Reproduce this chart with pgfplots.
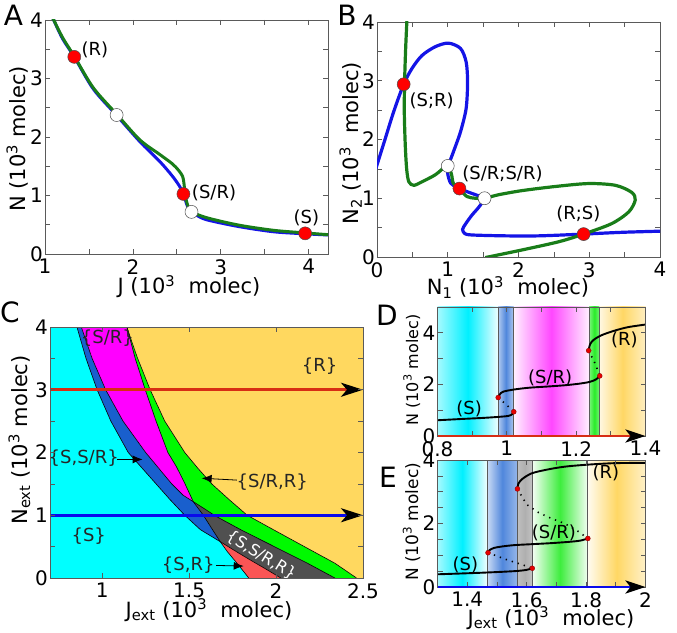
\documentclass[border=0pt]{standalone}
\usepackage{pgfplots}
\pgfplotsset{compat=1.18}
\usepackage{fontspec}
\setmainfont{DejaVu Sans}
\usetikzlibrary{arrows.meta}
\newcommand{\fs}[1]{\fontsize{#1}{#1}\selectfont}
\definecolor{cblue}{RGB}{20,20,230}
\definecolor{cgreen}{RGB}{25,125,25}
\definecolor{rcyan}{RGB}{0,255,255}
\definecolor{rblue}{RGB}{25,95,205}
\definecolor{rmag}{RGB}{255,0,255}
\definecolor{rgreen}{RGB}{0,250,0}
\definecolor{ryel}{RGB}{255,216,95}
\definecolor{rgray}{RGB}{80,80,80}
\definecolor{rred}{RGB}{250,85,85}
\definecolor{lred}{RGB}{215,45,20}
\definecolor{lblue}{RGB}{10,10,235}
\definecolor{axgray}{RGB}{90,90,90}
\definecolor{dcy}{RGB}{0,240,255}
\definecolor{dbl}{RGB}{80,135,220}
\definecolor{dmg}{RGB}{255,50,255}
\definecolor{dgr}{RGB}{40,235,40}
\definecolor{dye}{RGB}{255,215,100}
\definecolor{dgy}{RGB}{175,175,175}
\pgfplotsset{
  base/.style={scale only axis, anchor=south west,
    axis line style={axgray, line width=0.9pt},
    tick align=inside, tick style={axgray, line width=0.7pt},
    major tick length=5pt, minor tick length=5pt,
    tick label style={font=\fs{20}},
    xticklabel style={inner sep=0pt, yshift=-5pt},
    yticklabel style={inner sep=0pt, xshift=-2pt},
    /pgf/number format/assume math mode=true,
  },
  redpt/.style={only marks, mark=*, mark size=6.5pt, mark options={fill=red, draw=black!70, line width=0.5pt}},
  whitept/.style={only marks, mark=*, mark size=6.5pt, mark options={fill=white, draw=black!70, line width=0.5pt}},
  smallpt/.style={only marks, mark=*, mark size=2.5pt, mark options={fill=red!90!black, draw=red!50!black, line width=0.3pt}},
  region/.style={draw=none, fill=#1},
  bnd/.style={black, line width=0.6pt},
  curveDE/.style={black, line width=1.9pt, smooth},
  unst/.style={black, line width=1.6pt, dash pattern=on 1.3pt off 5pt},
  vline/.style={axgray, line width=0.8pt},
}
\begin{document}
\begin{tikzpicture}[x=1pt,y=1pt]
\useasboundingbox (0,0) rectangle (677,632);

% ---------------- Panel A ----------------
\begin{axis}[base, at={(45pt,378pt)}, width=283pt, height=234pt,
  xmin=1, xmax=4.22, ymin=0, ymax=4, xtick={1,2,3,4}, ytick={0,1,2,3,4},
  minor xtick={1.5,2.5,3.5}, minor ytick={0.5,1.5,2.5,3.5}]
\addplot[cblue, line width=3pt, smooth] coordinates {(1.09,4.03) (1.2,3.68) (1.333,3.37) (1.55,2.82) (1.815,2.37) (2.08,1.92) (2.307,1.58) (2.45,1.33) (2.53,1.16) (2.575,1.03) (2.62,0.82) (2.667,0.72) (2.72,0.667) (2.84,0.585) (3.2,0.47) (3.6,0.38) (3.96,0.345) (4.22,0.325)};
\addplot[cgreen, line width=3pt, smooth] coordinates {(1.09,4.03) (1.2,3.70) (1.333,3.38) (1.55,2.84) (1.815,2.39) (2.08,1.95) (2.307,1.70) (2.45,1.54) (2.52,1.43) (2.565,1.33) (2.58,1.22) (2.59,1.09) (2.61,0.90) (2.64,0.77) (2.667,0.72) (2.84,0.62) (3.2,0.495) (3.6,0.405) (3.96,0.36) (4.22,0.33)};
\addplot[redpt] coordinates {(1.333,3.37) (2.575,1.026) (3.96,0.353)};
\addplot[whitept] coordinates {(1.815,2.376) (2.667,0.72)};
\node[font=\fs{18}] at (axis cs:1.568,3.49) {(R)};
\node[font=\fs{18}] at (axis cs:2.923,1.048) {(S/R)};
\node[font=\fs{18}] at (axis cs:3.974,0.61) {(S)};
\end{axis}

% ---------------- Panel B ----------------
\begin{axis}[base, at={(377pt,375pt)}, width=283pt, height=235pt,
  xmin=0, xmax=4, ymin=0, ymax=4, xtick={0,1,2,3,4}, ytick={0,1,2,3,4},
  minor xtick={0.5,1.5,2.5,3.5}, minor ytick={0.5,1.5,2.5,3.5}]
\addplot[cblue, line width=3.2pt, smooth] coordinates {(-0.02,1.49) (0.118,2.02) (0.235,2.47) (0.377,2.94) (0.495,3.21) (0.636,3.43) (0.825,3.58) (1.01,3.64) (1.18,3.55) (1.26,3.32) (1.28,2.98) (1.26,2.53) (1.18,2.13) (1.08,1.79) (1.02,1.59) (1.0,1.42) (1.04,1.26) (1.11,1.20) (1.165,1.165) (1.30,1.10) (1.44,1.04) (1.52,1.0) (1.44,0.85) (1.34,0.71) (1.25,0.56) (1.21,0.47) (1.24,0.40) (1.34,0.375) (1.81,0.36) (2.29,0.36) (2.92,0.39) (3.46,0.42) (4.02,0.44)};
\addplot[cgreen, line width=3.2pt, smooth] coordinates {(0.424,4.06) (0.405,3.55) (0.39,2.98) (0.386,2.46) (0.40,1.89) (0.42,1.49) (0.45,1.28) (0.52,1.22) (0.636,1.28) (0.825,1.40) (0.99,1.55) (1.05,1.42) (1.08,1.25) (1.165,1.165) (1.27,1.03) (1.39,1.0) (1.52,1.0) (1.72,1.06) (2.05,1.13) (2.52,1.20) (2.99,1.25) (3.37,1.22) (3.60,1.10) (3.65,0.97) (3.56,0.77) (3.32,0.57) (2.92,0.39) (2.57,0.26) (2.05,0.12) (1.53,-0.01)};
\addplot[redpt] coordinates {(0.377,2.94) (1.165,1.165) (2.92,0.39)};
\addplot[whitept] coordinates {(1.0,1.55) (1.52,1.0)};
\node[font=\fs{18}] at (axis cs:0.773,2.65) {(S;R)};
\node[font=\fs{18}] at (axis cs:1.774,1.42) {(S/R;S/R)};
\node[font=\fs{18}] at (axis cs:2.845,0.74) {(R;S)};
\end{axis}

% ---------------- Panel C ----------------
\begin{axis}[base, at={(50pt,54pt)}, width=313pt, height=251pt,
  xmin=0.7, xmax=2.5, ymin=0, ymax=4, xtick={1,1.5,2,2.5}, ytick={0,1,2,3,4},
  minor ytick={0.5,1.5,2.5,3.5}, axis on top]
\addplot[region=rcyan] coordinates {(0.7,4) (0.855,4) (0.907,3.5) (0.971,3) (1.05,2.5) (1.15,2.0) (1.23,1.75) (1.31,1.5) (1.39,1.25) (1.475,1.0) (1.565,0.77) (1.679,0.579) (1.72,0.42) (1.78,0.22) (1.843,0) (0.7,0)} -- cycle;
\addplot[region=rblue] coordinates {(0.855,4) (0.907,3.5) (0.971,3) (1.05,2.5) (1.15,2.0) (1.23,1.75) (1.31,1.5) (1.39,1.25) (1.475,1.0) (1.565,0.77) (1.679,0.579) (1.63,0.79) (1.582,1.0) (1.555,1.1) (1.524,1.216) (1.465,1.32) (1.40,1.5) (1.325,1.75) (1.25,2.0) (1.12,2.5) (1.02,3) (0.942,3.5) (0.88,4)} -- cycle;
\addplot[region=rmag] coordinates {(0.88,4) (0.942,3.5) (1.02,3) (1.12,2.5) (1.25,2.0) (1.325,1.75) (1.40,1.5) (1.465,1.32) (1.524,1.216) (1.505,1.33) (1.475,1.509) (1.427,1.774) (1.378,2.0) (1.31,2.5) (1.248,3) (1.19,3.5) (1.142,4)} -- cycle;
\addplot[region=rgreen] coordinates {(1.142,4) (1.19,3.5) (1.248,3) (1.31,2.5) (1.378,2.0) (1.427,1.774) (1.475,1.509) (1.505,1.33) (1.524,1.216) (1.59,1.1) (1.65,0.99) (1.80,0.765) (1.99,0.5) (2.18,0.236) (2.338,0) (2.463,0) (2.338,0.236) (2.163,0.5) (1.988,0.765) (1.834,1.0) (1.73,1.25) (1.63,1.5) (1.55,1.75) (1.475,2.0) (1.36,2.5) (1.276,3) (1.204,3.5) (1.171,3.76)} -- cycle;
\addplot[region=ryel] coordinates {(1.142,4) (1.171,3.76) (1.204,3.5) (1.276,3) (1.36,2.5) (1.475,2.0) (1.55,1.75) (1.63,1.5) (1.73,1.25) (1.834,1.0) (1.988,0.765) (2.163,0.5) (2.338,0.236) (2.463,0) (2.5,0) (2.5,4)} -- cycle;
\addplot[region=rgray] coordinates {(1.524,1.216) (1.555,1.1) (1.582,1.0) (1.63,0.79) (1.679,0.579) (1.76,0.44) (1.85,0.29) (1.94,0.145) (2.027,0) (2.338,0) (2.18,0.236) (1.99,0.5) (1.80,0.765) (1.65,0.99) (1.59,1.1)} -- cycle;
\addplot[region=rred] coordinates {(1.679,0.579) (1.72,0.42) (1.78,0.22) (1.843,0) (2.027,0) (1.94,0.145) (1.85,0.29) (1.76,0.44)} -- cycle;
\addplot[bnd] coordinates {(0.855,4) (0.907,3.5) (0.971,3) (1.05,2.5) (1.15,2.0) (1.23,1.75) (1.31,1.5) (1.39,1.25) (1.475,1.0) (1.565,0.77) (1.679,0.579) (1.76,0.44) (1.85,0.29) (1.94,0.145) (2.027,0)};
\addplot[bnd] coordinates {(0.88,4) (0.942,3.5) (1.02,3) (1.12,2.5) (1.25,2.0) (1.325,1.75) (1.40,1.5) (1.465,1.32) (1.524,1.216) (1.59,1.1) (1.65,0.99) (1.80,0.765) (1.99,0.5) (2.18,0.236) (2.338,0)};
\addplot[bnd] coordinates {(1.142,4) (1.19,3.5) (1.248,3) (1.31,2.5) (1.378,2.0) (1.427,1.774) (1.475,1.509) (1.505,1.33) (1.524,1.216) (1.555,1.1) (1.582,1.0) (1.63,0.79) (1.679,0.579) (1.72,0.42) (1.78,0.22) (1.843,0)};
\addplot[bnd] coordinates {(1.142,4) (1.171,3.76) (1.204,3.5) (1.276,3) (1.36,2.5) (1.475,2.0) (1.55,1.75) (1.63,1.5) (1.73,1.25) (1.834,1.0) (1.988,0.765) (2.163,0.5) (2.338,0.236) (2.463,0)};
\addplot[lred, line width=2.7pt, -{Stealth[length=22pt,width=14pt,inset=6pt,color=black]}] coordinates {(0.7,3) (2.5,3)};
\addplot[lblue, line width=2.7pt, -{Stealth[length=22pt,width=14pt,inset=6pt,color=black]}] coordinates {(0.7,1) (2.5,1)};
\addplot[black, line width=0.8pt, -{Latex[length=10pt,width=8pt]}] coordinates {(1.085,1.89) (1.233,1.89)};
\addplot[black, line width=0.8pt, -{Latex[length=10pt,width=8pt]}] coordinates {(1.775,1.56) (1.572,1.59)};
\addplot[black, line width=0.8pt, -{Latex[length=10pt,width=8pt]}] coordinates {(1.655,0.20) (1.814,0.19)};
\node[font=\fs{18}, text=black!85] at (axis cs:1.03,3.82) {\{S/R\}};
\node[font=\fs{18}, text=black!85] at (axis cs:2.25,3.37) {\{R\}};
\node[font=\fs{18}, text=black!85] at (axis cs:0.894,1.91) {\{S,S/R\}};
\node[font=\fs{18}, text=black!85] at (axis cs:1.978,1.535) {\{S/R,R\}};
\node[font=\fs{18}, text=black!85] at (axis cs:0.923,0.66) {\{S\}};
\node[font=\fs{18}, text=black!85] at (axis cs:1.495,0.207) {\{S,R\}};
\node[font=\fs{16}, text=white, rotate=-32] at (axis cs:1.915,0.36) {\{S,S/R,R\}};
\end{axis}

% ---------------- Panel D ----------------
\begin{axis}[base, at={(437.5pt,196pt)}, width=208pt, height=129pt,
  xmin=0.8, xmax=1.4, ymin=0, ymax=5, xtick={0.8,1,1.2,1.4}, ytick={0,2,4},
  minor xtick={0.9,1.1,1.3}, minor ytick={1,3}, axis on top, clip=false]
\addplot[draw=none, left color=dcy!35!white, right color=dcy!6!white, middle color=dcy] coordinates {(0.8,0) (0.8,5) (0.975,5) (0.975,0)} -- cycle;
\addplot[draw=none, left color=dbl!45!white, right color=dbl!45!white, middle color=dbl] coordinates {(0.975,0) (0.975,5) (1.02,5) (1.02,0)} -- cycle;
\addplot[draw=none, left color=dmg!8!white, right color=dmg!8!white, middle color=dmg!90!white] coordinates {(1.02,0) (1.02,5) (1.237,5) (1.237,0)} -- cycle;
\addplot[draw=none, left color=dgr!60!white, right color=dgr!60!white, middle color=dgr] coordinates {(1.237,0) (1.237,5) (1.268,5) (1.268,0)} -- cycle;
\addplot[draw=none, left color=dye!20!white, right color=dye!40!white, middle color=dye] coordinates {(1.268,0) (1.268,5) (1.4,5) (1.4,0)} -- cycle;
\addplot[vline] coordinates {(0.975,0) (0.975,5)};
\addplot[vline] coordinates {(1.02,0) (1.02,5)};
\addplot[vline] coordinates {(1.237,0) (1.237,5)};
\addplot[vline] coordinates {(1.268,0) (1.268,5)};
\addplot[curveDE] coordinates {(0.8,0.61) (0.87,0.66) (0.93,0.70) (0.98,0.745) (1.005,0.78) (1.015,0.84) (1.02,0.94)};
\addplot[curveDE] coordinates {(0.975,1.49) (0.98,1.62) (0.99,1.72) (1.02,1.80) (1.063,1.87) (1.12,1.92) (1.17,1.97) (1.21,2.03) (1.24,2.10) (1.258,2.20) (1.268,2.33)};
\addplot[curveDE] coordinates {(1.236,3.31) (1.24,3.55) (1.25,3.72) (1.272,3.90) (1.31,4.08) (1.35,4.22) (1.4,4.32)};
\addplot[unst] coordinates {(0.975,1.49) (1.0,1.2) (1.02,0.94)};
\addplot[unst] coordinates {(1.236,3.31) (1.255,2.8) (1.268,2.33)};
\addplot[smallpt] coordinates {(0.975,1.49) (1.02,0.94) (1.236,3.31) (1.268,2.33)};
\node[font=\fs{18}] at (axis cs:0.891,1.07) {(S)};
\node[font=\fs{18}] at (axis cs:1.125,2.24) {(S/R)};
\node[font=\fs{18}] at (axis cs:1.339,3.73) {(R)};
\end{axis}
\begin{axis}[scale only axis, anchor=south west, at={(437.5pt,196pt)}, width=208pt, height=129pt,
  xmin=0.8, xmax=1.4, ymin=0, ymax=5, hide axis, clip=false]
\addplot[lred, line width=2.8pt, -{Stealth[length=20pt,width=13pt,inset=5pt,color=black]}] coordinates {(0.8,0) (1.4,0)};
\end{axis}

% ---------------- Panel E ----------------
\begin{axis}[base, at={(437.5pt,45pt)}, width=208pt, height=127pt,
  xmin=1.3, xmax=2.0, ymin=0, ymax=4, xtick={1.4,1.6,1.8,2}, ytick={0,2,4},
  minor xtick={1.3,1.5,1.7,1.9}, minor ytick={0.5,1,1.5,2.5,3,3.5}, axis on top, clip=false]
\addplot[draw=none, left color=dcy!35!white, right color=dcy!5!white, middle color=dcy] coordinates {(1.3,0) (1.3,4) (1.467,4) (1.467,0)} -- cycle;
\addplot[draw=none, left color=dbl!30!white, right color=dbl!60!white, middle color=dbl] coordinates {(1.467,0) (1.467,4) (1.569,4) (1.569,0)} -- cycle;
\addplot[draw=none, left color=dgy!80!white, right color=dgy!75!white, middle color=dgy] coordinates {(1.569,0) (1.569,4) (1.619,4) (1.619,0)} -- cycle;
\addplot[draw=none, left color=dgr!5!white, right color=dgr!5!white, middle color=dgr!90!white] coordinates {(1.619,0) (1.619,4) (1.806,4) (1.806,0)} -- cycle;
\addplot[draw=none, left color=dye!10!white, right color=dye!35!white, middle color=dye] coordinates {(1.806,0) (1.806,4) (2.0,4) (2.0,0)} -- cycle;
\addplot[vline] coordinates {(1.467,0) (1.467,4)};
\addplot[vline] coordinates {(1.569,0) (1.569,4)};
\addplot[vline] coordinates {(1.619,0) (1.619,4)};
\addplot[vline] coordinates {(1.806,0) (1.806,4)};
\addplot[curveDE] coordinates {(1.3,0.40) (1.45,0.45) (1.56,0.50) (1.60,0.54) (1.619,0.59)};
\addplot[curveDE] coordinates {(1.47,1.08) (1.475,1.16) (1.49,1.23) (1.52,1.28) (1.56,1.32) (1.62,1.35) (1.68,1.38) (1.74,1.42) (1.78,1.46) (1.806,1.53)};
\addplot[curveDE] coordinates {(1.569,3.09) (1.572,3.25) (1.585,3.40) (1.617,3.58) (1.67,3.70) (1.728,3.79) (1.8,3.85) (1.894,3.90) (2.0,3.91)};
\addplot[unst] coordinates {(1.47,1.08) (1.53,0.87) (1.58,0.72) (1.619,0.59)};
\addplot[unst] coordinates {(1.569,3.09) (1.60,2.60) (1.639,2.35) (1.683,2.16) (1.728,2.0) (1.772,1.76) (1.806,1.53)};
\addplot[smallpt] coordinates {(1.47,1.08) (1.619,0.59) (1.569,3.09) (1.806,1.53)};
\node[font=\fs{18}] at (axis cs:1.394,0.69) {(S)};
\node[font=\fs{18}] at (axis cs:1.692,1.69) {(S/R)};
\node[font=\fs{18}] at (axis cs:1.867,3.58) {(R)};
\end{axis}
\begin{axis}[scale only axis, anchor=south west, at={(437.5pt,45pt)}, width=208pt, height=127pt,
  xmin=1.3, xmax=2.0, ymin=0, ymax=4, hide axis, clip=false]
\addplot[lblue, line width=2.8pt, -{Stealth[length=20pt,width=13pt,inset=5pt,color=black]}] coordinates {(1.3,0) (2.0,0)};
\end{axis}

% ---------------- outer labels ----------------
\node[font=\fs{28}] at (13.5,617) {A};
\node[font=\fs{28}] at (347,617) {B};
\node[font=\fs{28}] at (10,319.5) {C};
\node[font=\fs{28}] at (387,317) {D};
\node[font=\fs{28}] at (388,155) {E};

\node[anchor=base, font=\fs{21}] at (189,338) {J (10\textsuperscript{3}~~molec)};
\node[rotate=90, anchor=base, font=\fs{21}] at (25,493) {N (10\textsuperscript{3} molec)};
\node[anchor=base, font=\fs{21}] at (508,337) {N\textsubscript{1} (10\textsuperscript{3}~~molec)};
\node[rotate=90, anchor=base, font=\fs{21}] at (358,489) {N\textsubscript{2} (10\textsuperscript{3}~~molec)};
\node[anchor=base, font=\fs{21}] at (209,15) {J\textsubscript{ext}~(10\textsuperscript{3}~~molec)};
\node[rotate=90, anchor=base, font=\fs{21}] at (27,192) {N\textsubscript{ext} (10\textsuperscript{3} molec)};
\node[rotate=90, anchor=base, font=\fs{16}] at (418,262) {N (10\textsuperscript{3} molec)};
\node[rotate=90, anchor=base, font=\fs{17}] at (418,110) {N (10\textsuperscript{3} molec)};
\node[anchor=base, font=\fs{21}] at (551,7) {J\textsubscript{ext} (10\textsuperscript{3}~~molec)};
\end{tikzpicture}
\end{document}
